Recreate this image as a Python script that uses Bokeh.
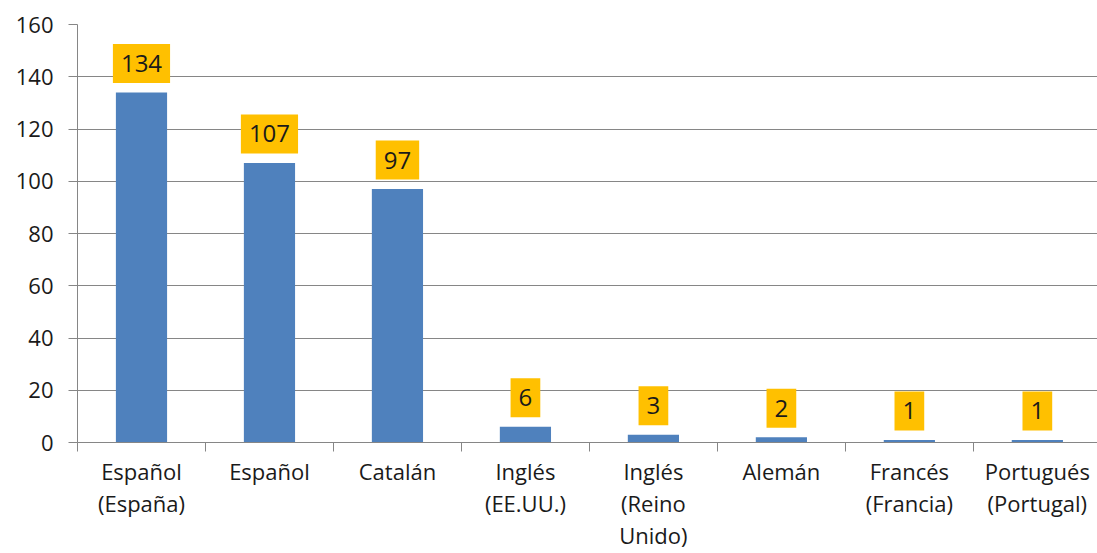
from bokeh.plotting import figure
from bokeh.models import Range1d, FixedTicker, ColumnDataSource
from bokeh.core.properties import value
from bokeh.embed import file_html
from bokeh.resources import INLINE

categories = ["Español\n(España)", "Español", "Catalán", "Inglés\n(EE.UU.)",
              "Inglés\n(Reino\nUnido)", "Alemán", "Francés\n(Francia)", "Portugués\n(Portugal)"]
counts = [134, 107, 97, 6, 3, 2, 1, 1]
y_ticks = [0, 20, 40, 60, 80, 100, 120, 140, 160]

xs = [i + 0.5 for i in range(len(categories))]
src = ColumnDataSource(dict(x=xs, top=counts, label=[str(c) for c in counts]))

FONT = "Open Sans"
GRAY = "#868686"
TXT = "#1a1a1a"

p = figure(width=1097, height=553, output_backend="svg", toolbar_location=None,
           x_range=Range1d(0, 7.97), y_range=Range1d(0, 160),
           min_border_left=77, min_border_top=24, min_border_bottom=111, min_border_right=0)
p.outline_line_color = None
p.background_fill_color = "white"

p.vbar(x="x", top="top", width=0.4, bottom=0, source=src, fill_color="#4F81BD", line_color=None)

p.text(x="x", y="top", text="label", source=src, text_align="center", text_baseline="middle",
       y_offset=-29, text_font=value(FONT), text_font_size="24px", text_color=TXT,
       background_fill_color="#FFC000", padding=(8, 11))

p.xgrid.grid_line_color = None
p.ygrid.grid_line_color = GRAY
p.ygrid.ticker = FixedTicker(ticks=y_ticks)

p.yaxis.ticker = FixedTicker(ticks=y_ticks)
p.yaxis.axis_line_color = GRAY
p.yaxis.major_tick_line_color = GRAY
p.yaxis.major_tick_out = 9
p.yaxis.major_tick_in = 0
p.yaxis.minor_tick_line_color = None
p.yaxis.major_label_standoff = 15
p.yaxis.major_label_text_font = FONT
p.yaxis.major_label_text_font_size = "22px"
p.yaxis.major_label_text_color = TXT

p.xaxis.ticker = FixedTicker(ticks=xs, minor_ticks=list(range(len(categories) + 1)))
p.xaxis.major_label_overrides = {x: c for x, c in zip(xs, categories)}
p.xaxis.axis_line_color = GRAY
p.xaxis.major_tick_line_color = None
p.xaxis.minor_tick_line_color = GRAY
p.xaxis.minor_tick_out = 9
p.xaxis.minor_tick_in = 0
p.xaxis.major_tick_out = 9
p.xaxis.major_tick_in = 0
p.xaxis.major_label_standoff = 4
p.xaxis.major_label_text_font = FONT
p.xaxis.major_label_text_font_size = "22px"
p.xaxis.major_label_text_color = TXT
p.xaxis.major_label_text_line_height = 1.08

open("out.html", "w").write(file_html(p, INLINE))
